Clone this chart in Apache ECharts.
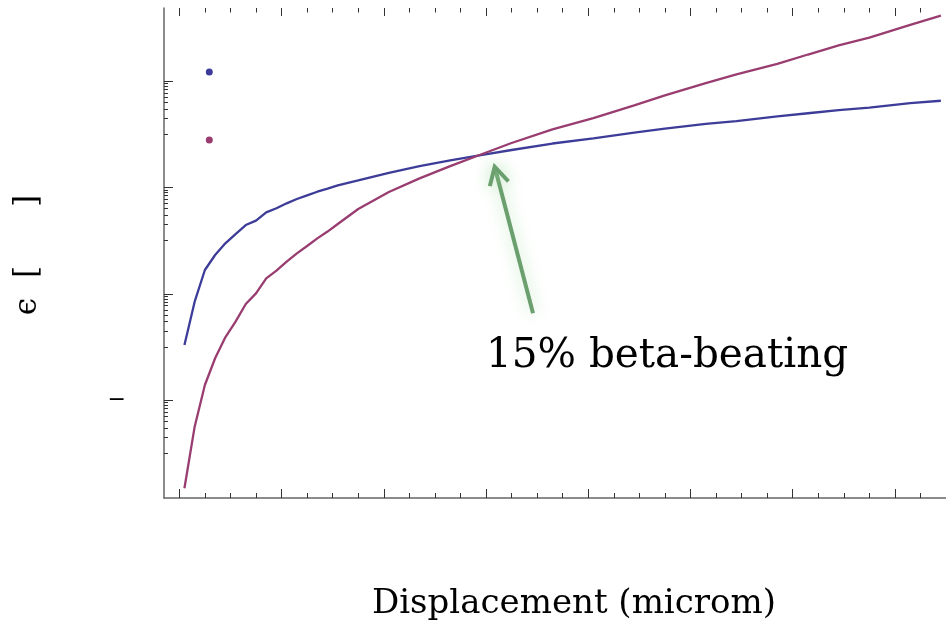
<!DOCTYPE html>
<html>
<head>
<meta charset="utf-8">
<script src="https://cdn.jsdelivr.net/npm/echarts@6/dist/echarts.min.js"></script>
<style>
  html, body { margin: 0; padding: 0; background: #ffffff; }
  #chart { width: 946px; height: 628px; }
</style>
</head>
<body>
<div id="chart"></div>
<script>
// Displacement samples (microm)
const displacement = [1, 3, 5, 7, 9, 11, 13, 15, 17, 19, 21, 23, 25, 27, 29, 31,
  35, 41, 47, 53, 59, 65, 73, 81, 89, 95, 103, 109, 117, 123, 129, 135, 143, 149];

// Emittance growth, first case
const emitA = [1.09e-5, 7.10e-5, 2.80e-4, 5.36e-4, 8.89e-4, 1.33e-3, 1.96e-3, 2.37e-3,
  3.40e-3, 4.05e-3, 5.02e-3, 6.05e-3, 7.11e-3, 8.30e-3, 9.46e-3, 1.09e-2,
  1.35e-2, 1.88e-2, 2.52e-2, 3.21e-2, 4.06e-2, 5.05e-2, 6.69e-2, 8.37e-2, 0.107, 0.128,
  0.157, 0.177, 0.217, 0.248, 0.284, 0.316, 0.386, 0.426];

// Emittance growth, second case
const emitB = [2.21e-8, 3.18e-7, 1.93e-6, 6.14e-6, 1.52e-5, 2.99e-5, 6.43e-5, 1.02e-4,
  1.95e-4, 2.72e-4, 4.01e-4, 5.77e-4, 7.91e-4, 1.10e-3, 1.48e-3, 2.05e-3,
  3.93e-3, 8.20e-3, 1.48e-2, 2.52e-2, 4.15e-2, 6.84e-2, 0.123, 0.200, 0.349, 0.536,
  0.917, 1.34, 2.11, 3.15, 4.69, 6.57, 11.4, 16.9];

// Tick positions
const xMajorTicks = [0, 20, 40, 60, 80, 100, 120, 140];
const xMinorTicks = [5, 10, 15, 25, 30, 35, 45, 50, 55, 65, 70, 75, 85, 90, 95,
  105, 110, 115, 125, 130, 135, 145];
const yMajorTicks = [1e-6, 1e-4, 1e-2, 1];
const yMinorTicks = [];
yMajorTicks.forEach(function (m) {
  for (let k = 1; k <= 9; k++) yMinorTicks.push(k * m / 10);
});
const yTickText = { 1e-6: '\u2212' };

// Annotation arrow (tip, tail) in data coordinates
const arrowTip = [61.7, 0.0245];
const arrowTail = [69.2, 4.3e-5];

const lineColors = ['#3d3d99', '#993d71'];
const serif = 'DejaVu Serif';

const pairs = function (ys) { return displacement.map(function (x, i) { return [x, ys[i]]; }); };

const chart = echarts.init(document.getElementById('chart'), null, { renderer: 'canvas' });

const axisLineStyle = { color: '#666666', width: 1.5 };
const tickStyle = { color: '#333333', width: 1 };

function xAxisDef(pos, ticks, len, showLine) {
  return {
    type: 'value', position: pos, min: -3, max: 150,
    axisLine: { show: showLine, onZero: false, lineStyle: axisLineStyle },
    axisTick: { show: true, inside: true, length: len, customValues: ticks, lineStyle: tickStyle },
    axisLabel: { show: false },
    splitLine: { show: false }
  };
}

function yAxisDef(ticks, len, showLine, labels) {
  return {
    type: 'log', logBase: 10, min: 1.45e-8, max: 23.6, position: 'left',
    axisLine: { show: showLine, onZero: false, lineStyle: axisLineStyle },
    axisTick: { show: true, inside: true, length: len, customValues: ticks, lineStyle: tickStyle },
    axisLabel: labels ? {
      show: true, customValues: Object.keys(labels).map(Number), margin: 38,
      formatter: function (v) { return labels[v] || labels[String(v)] || ''; },
      fontFamily: 'DejaVu Sans', fontSize: 22, color: '#000', padding: [0, 0, 14, 0]
    } : { show: false },
    splitLine: { show: false }
  };
}

chart.setOption({
  animation: false,
  backgroundColor: '#ffffff',
  grid: { left: 164, right: 0, top: 8, bottom: 130, containLabel: false },
  legend: {
    orient: 'vertical', left: 205.8, top: 68.5, padding: 0,
    itemWidth: 7, itemHeight: 7, itemGap: 61, icon: 'circle',
    formatter: function () { return ''; },
    textStyle: { fontSize: 7 },
    data: ['case A', 'case B']
  },
  xAxis: [
    xAxisDef('bottom', xMajorTicks, 9, true),
    xAxisDef('bottom', xMinorTicks, 5, false),
    xAxisDef('top', xMajorTicks, 8, false),
    xAxisDef('top', xMinorTicks, 4.5, false)
  ],
  yAxis: [
    yAxisDef(yMajorTicks, 9, true, yTickText),
    yAxisDef(yMinorTicks, 4, false, null)
  ],
  series: [
    { name: 'case A', type: 'line', data: pairs(emitA), showSymbol: false, symbol: 'circle',
      lineStyle: { color: lineColors[0], width: 2.3 }, itemStyle: { color: lineColors[0] } },
    { name: 'case B', type: 'line', data: pairs(emitB), showSymbol: false, symbol: 'circle',
      lineStyle: { color: lineColors[1], width: 2.3 }, itemStyle: { color: lineColors[1] } }
  ]
});

// Arrow and text annotations placed after layout
const tip = chart.convertToPixel({ gridIndex: 0 }, arrowTip);
const tail = chart.convertToPixel({ gridIndex: 0 }, arrowTail);
const dx = tail[0] - tip[0], dy = tail[1] - tip[1];
const ang = Math.atan2(dy, dx);
const wingLen = 20, wingAng = 0.5;
const wingL = [tip[0] + wingLen * Math.cos(ang + wingAng), tip[1] + wingLen * Math.sin(ang + wingAng)];
const wingR = [tip[0] + wingLen * Math.cos(ang - wingAng), tip[1] + wingLen * Math.sin(ang - wingAng)];
const arrowStyle = {
  stroke: '#6b9f6e', lineWidth: 4, fill: null, lineCap: 'butt', lineJoin: 'miter',
  shadowBlur: 16, shadowColor: 'rgba(150, 215, 150, 0.7)'
};

chart.setOption({
  graphic: [
    { type: 'polyline', shape: { points: [tail, [tip[0] + 3 * Math.cos(ang), tip[1] + 3 * Math.sin(ang)]] }, style: arrowStyle, z: 10 },
    { type: 'polyline', shape: { points: [wingL, tip, wingR] }, style: arrowStyle, z: 10 },
    { type: 'text', x: 486, y: 356,
      style: { text: '15% beta-beating', font: '40.5px "' + serif + '"', fill: '#000', textAlign: 'left', textVerticalAlign: 'middle' }, z: 10 },
    { type: 'text', x: 574, y: 604,
      style: { text: 'Displacement (microm)', font: '34px "' + serif + '"', fill: '#000', textAlign: 'center', textVerticalAlign: 'middle' }, z: 10 },
    { type: 'text', x: 27.7, y: 255, rotation: Math.PI / 2,
      style: { text: '\u03f5  [      ]', font: '31px "' + serif + '"', fill: '#000', textAlign: 'center', textVerticalAlign: 'middle' }, z: 10 }
  ]
});
</script>
</body>
</html>
